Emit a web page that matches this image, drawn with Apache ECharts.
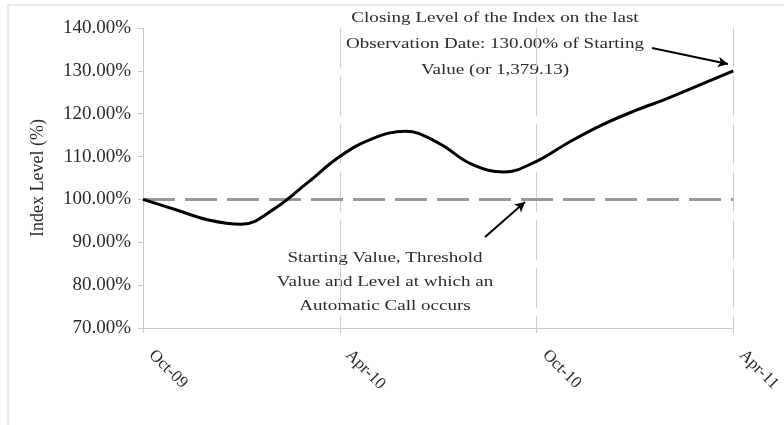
<!DOCTYPE html>
<html>
<head>
<meta charset="utf-8">
<script src="https://cdn.jsdelivr.net/npm/echarts@6/dist/echarts.min.js"></script>
<style>
  html, body { margin: 0; padding: 0; background: #fff; }
  #chart { width: 784px; height: 425px; }
</style>
</head>
<body>
<div id="chart"></div>
<script>
// months since Oct-09
var months = [0, 1, 2, 3, 4, 5, 6, 7, 8, 9, 10, 11, 12, 13, 14, 15, 16, 17, 18];
var indexLevel = [100, 97.6, 95.2, 94.2, 97.8, 103.8, 110, 114.2, 115.9, 113.2, 108.3, 106.4, 108.9, 113.4, 117.4, 120.7, 123.6, 126.8, 130];
var tickLabels = ['Oct-09', 'Apr-10', 'Oct-10', 'Apr-11'];
var threshold = 100;

var serif = '"Liberation Serif", "DejaVu Serif", serif';
var chart = echarts.init(document.getElementById('chart'));

var option = {
    backgroundColor: '#fff',
    animation: false,
    grid: { left: 143, right: 49, top: 28, bottom: 97 },
    xAxis: {
        type: 'value',
        min: 0,
        max: 18,
        interval: 6,
        axisLine: { lineStyle: { color: '#c8c8c8', width: 1 } },
        axisTick: { show: true, length: 5, lineStyle: { color: '#c8c8c8' } },
        axisLabel: {
            rotate: -45,
            margin: 16,
            padding: [0, 0, 0, 12],
            fontFamily: serif,
            fontSize: 17,
            color: '#2a2a2a',
            formatter: function (v) { return tickLabels[Math.round(v / 6)]; }
        },
        splitLine: {
            show: true,
            lineStyle: { color: '#cfcfcf', width: 1, type: [40, 8] }
        }
    },
    yAxis: {
        type: 'value',
        min: 70,
        max: 140,
        interval: 10,
        name: 'Index Level (%)',
        nameLocation: 'middle',
        nameGap: 96,
        nameTextStyle: { fontFamily: serif, fontSize: 18, color: '#2a2a2a' },
        axisLine: { show: true, lineStyle: { color: '#c8c8c8', width: 1 } },
        axisTick: { show: true, length: 5, lineStyle: { color: '#c8c8c8' } },
        axisLabel: {
            fontFamily: serif,
            fontSize: 19,
            color: '#2a2a2a',
            margin: 12,
            formatter: function (v) { return v.toFixed(2) + '%'; }
        },
        splitLine: { show: false }
    },
    series: [
        {
            name: 'Threshold',
            type: 'line',
            data: [[months[0], threshold], [months[months.length - 1], threshold]],
            symbol: 'none',
            lineStyle: { color: '#999', width: 3, type: [32, 10] },
            z: 1
        },
        {
            name: 'Index',
            type: 'line',
            data: months.map(function (m, i) { return [m, indexLevel[i]]; }),
            smooth: 0.4,
            symbol: 'none',
            lineStyle: { color: '#000', width: 3 },
            z: 3,
            markLine: {
                silent: true,
                symbol: ['none', 'arrow'],
                symbolSize: [8, 10],
                label: { show: false },
                lineStyle: { color: '#000', width: 2, type: 'solid' },
                data: [
                    [{ x: 652, y: 48 }, { x: 728, y: 64 }],
                    [{ x: 485, y: 237 }, { x: 525, y: 202 }]
                ]
            }
        }
    ],
    graphic: [
        {
            type: 'rect',
            shape: { x: 8, y: 5, width: 800, height: 440 },
            style: { fill: 'none', stroke: '#d0d0d0', lineWidth: 1 },
            silent: true,
            z: -1
        },
        {
            type: 'text',
            x: 495, y: 5,
            scaleX: 1.27,
            style: {
                text: 'Closing Level of the Index on the last\nObservation Date: 130.00% of Starting\nValue (or 1,379.13)',
                font: '15px ' + serif,
                fill: '#2a2a2a',
                align: 'center',
                textAlign: 'center',
                verticalAlign: 'top',
                lineHeight: 26
            }
        },
        {
            type: 'text',
            x: 385, y: 246,
            scaleX: 1.27,
            style: {
                text: 'Starting Value, Threshold\nValue and Level at which an\nAutomatic Call occurs',
                font: '15px ' + serif,
                fill: '#2a2a2a',
                align: 'center',
                textAlign: 'center',
                verticalAlign: 'top',
                lineHeight: 24
            }
        }
    ]
};
chart.setOption(option);
</script>
</body>
</html>
